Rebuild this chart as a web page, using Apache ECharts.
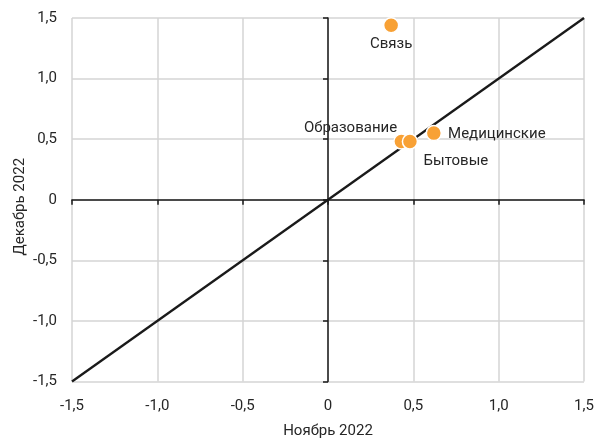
<!DOCTYPE html>
<html><head><meta charset="utf-8">
<script src="https://cdn.jsdelivr.net/npm/echarts@6/dist/echarts.min.js"></script>
<style>html,body{margin:0;padding:0;background:#fff}#c{width:595px;height:438px}</style>
</head><body><div id="c"></div>
<script>
var names = ['Связь', 'Образование', 'Бытовые', 'Медицинские'];
var novValues = [0.37, 0.43, 0.48, 0.62];
var decValues = [1.44, 0.48, 0.48, 0.55];
var diagonal = [[-1.5, -1.5], [1.5, 1.5]];
var ticks = [-1.5, -1.0, -0.5, 0, 0.5, 1.0, 1.5];

var labelCfg = [
  {position: 'bottom', distance: 3, offset: [0, 0]},
  {position: 'left', distance: 0, offset: [4, -13]},
  {position: 'bottom', distance: 4, offset: [46, 0]},
  {position: 'right', distance: 6, offset: [0, 1]}
];
var font = 'Roboto';
var txt = '#262626';
function fmt(v){ return v === 0 ? '0' : v.toFixed(1).replace('.', ','); }

var pts = names.map(function(n, i){
  return {name: n, value: [novValues[i], decValues[i]], label: labelCfg[i]};
});

var chart = echarts.init(document.getElementById('c'));
chart.setOption({
  animation: false,
  grid: {left: 72, right: 11, top: 18, bottom: 56.5, containLabel: false, outerBoundsMode: 'none'},
  xAxis: [{
    type: 'value', min: -1.5, max: 1.5, interval: 0.5,
    name: 'Ноябрь 2022', nameLocation: 'middle', nameGap: 42, nameMoveOverlap: false,
    nameTextStyle: {fontFamily: font, fontSize: 15, color: txt},
    axisLine: {show: false, onZero: false}, axisTick: {show: false},
    axisLabel: {fontFamily: font, fontSize: 15, color: txt, margin: 17, formatter: fmt},
    splitLine: {show: true, lineStyle: {color: '#d4d4d4', width: 1.5}}
  }, {
    type: 'value', min: -1.5, max: 1.5, interval: 0.5, position: 'bottom',
    axisLine: {show: true, onZero: true, lineStyle: {color: '#1a1a1a', width: 1.5}},
    axisTick: {show: true, length: 5, lineStyle: {color: '#1a1a1a', width: 1.5}},
    axisLabel: {show: false}, splitLine: {show: false}
  }],
  yAxis: [{
    type: 'value', min: -1.5, max: 1.5, interval: 0.5,
    name: 'Декабрь 2022', nameLocation: 'middle', nameGap: 44, nameRotate: 90, nameMoveOverlap: false,
    nameTextStyle: {fontFamily: font, fontSize: 15, color: txt, padding: [0, 14, 0, 0]},
    axisLine: {show: false, onZero: false}, axisTick: {show: false},
    axisLabel: {fontFamily: font, fontSize: 15, color: txt, margin: 15, formatter: fmt},
    splitLine: {show: true, lineStyle: {color: '#d4d4d4', width: 1.5}}
  }, {
    type: 'value', min: -1.5, max: 1.5, interval: 0.5, position: 'left',
    axisLine: {show: true, onZero: true, lineStyle: {color: '#1a1a1a', width: 1.5}},
    axisTick: {show: true, length: 5, lineStyle: {color: '#1a1a1a', width: 1.5}},
    axisLabel: {show: false}, splitLine: {show: false}
  }],
  series: [{
    type: 'line', data: diagonal, xAxisIndex: 0, yAxisIndex: 0,
    symbol: 'none', lineStyle: {color: '#1a1a1a', width: 2.3}, z: 3, silent: true
  }, {
    type: 'scatter', data: pts, xAxisIndex: 0, yAxisIndex: 0,
    symbolSize: 15,
    itemStyle: {color: '#F8A135', borderColor: '#fff', borderWidth: 1.5, opacity: 1},
    label: {show: true, formatter: '{b}', fontFamily: font, fontSize: 15, color: txt},
    z: 5
  }]
});
</script></body></html>
